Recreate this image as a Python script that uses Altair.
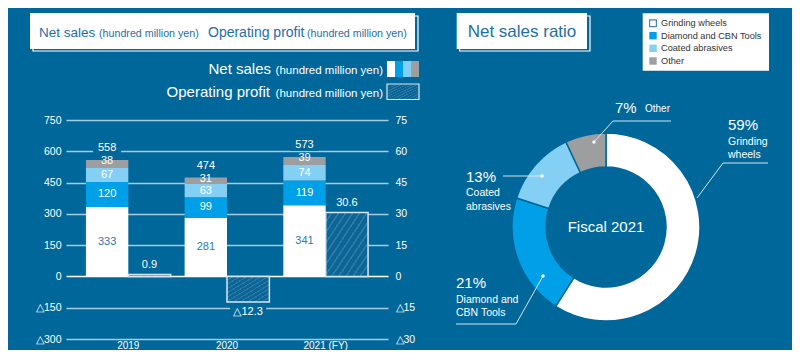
import altair as alt
import pandas as pd

# ---------------- data ----------------
years = ["2019", "2020", "2021 (FY)"]
segments = ["Grinding wheels", "Diamond and CBN Tools", "Coated abrasives", "Other"]
grinding = [333, 281, 341]
diamond = [120, 99, 119]
coated = [67, 63, 74]
other = [38, 31, 39]
totals = [558, 474, 573]
op_profit = [0.9, -12.3, 30.6]
share_2021 = [59, 21, 13, 7]
sales_ticks = [-300, -150, 0, 150, 300, 450, 600, 750]
profit_ticks = [-30, -15, 0, 15, 30, 45, 60, 75]

# ---------------- style ----------------
BG = "#00679b"
BLUE_TXT = "#1f6ea6"
FONT = "Liberation Sans"
seg_colors = ["#ffffff", "#00a0e9", "#84d0f4", "#9d9e9f"]
HB, HS = "#0b6597", "#2e7aa6"

N = 12
stops = []
for k in range(N):
    a, b, c = k / N, (k + 0.72) / N, (k + 1) / N
    stops += [alt.GradientStop(color=HB, offset=a), alt.GradientStop(color=HB, offset=b),
              alt.GradientStop(color=HS, offset=b), alt.GradientStop(color=HS, offset=c)]
hatch = alt.LinearGradient(gradient="linear", stops=stops, x1=0, y1=0, x2=1, y2=1)

sales_rows = []
for i, y in enumerate(years):
    for j, vals in enumerate([grinding, diamond, coated, other]):
        sales_rows.append({"year": y, "segment": segments[j], "idx": j, "value": vals[i], "series": "sales"})
sales_df = pd.DataFrame(sales_rows)
tot_df = pd.DataFrame({"year": years, "total": totals, "series": "sales"})
prof_df = pd.DataFrame({"year": years, "profit": op_profit, "series": "profit"})
pie_df = pd.DataFrame({"segment": segments, "share": share_2021, "idx": range(4)})

color_scale = alt.Scale(domain=segments, range=seg_colors)

lab_expr = "datum.value < 0 ? '\u25b3' + (-datum.value) : '' + datum.value"
xaxis = alt.Axis(orient="bottom", labelColor="white", labelFontSize=10, labelPadding=1, ticks=False,
                 domain=False, grid=False, labelAngle=0, labelFont=FONT)
X = alt.X("year:N", scale=alt.Scale(domain=years, paddingInner=14 / 99, paddingOuter=20 / 99),
          axis=xaxis, title=None)
XOFF = alt.XOffset("series:N", scale=alt.Scale(domain=["sales", "profit"], paddingInner=0, paddingOuter=0))
YS = alt.Scale(domain=[-300, 750], nice=False, zero=False)
YP = alt.Scale(domain=[-30, 75], nice=False, zero=False)
yaxis_left = alt.Axis(orient="left", values=sales_ticks, labelExpr=lab_expr, grid=True,
                      gridColor={"condition": {"test": "datum.value === 0", "value": "#ffffff"}, "value": "#a9cbe0"},
                      gridWidth=1.3, domain=False, ticks=False, labelPadding=5, labelColor="white",
                      labelFontSize=10.5, labelFont=FONT)
yaxis_right = alt.Axis(orient="right", values=profit_ticks, labelExpr=lab_expr, grid=False, domain=False,
                       ticks=False, labelPadding=7, labelColor="white", labelFontSize=10.5, labelFont=FONT)

# ---------------- sales group ----------------
sales_base = alt.Chart(sales_df).transform_stack(
    stack="value", groupby=["year"], as_=["y0", "y1"], sort=[alt.SortField("idx", order="ascending")]
).transform_calculate(mid="datum.idx == 3 ? datum.y1 - 5 : (datum.y0 + datum.y1) / 2")

sales_bars = sales_base.mark_bar().encode(
    x=X, xOffset=XOFF,
    y=alt.Y("y1:Q", scale=YS, axis=yaxis_left, title=None), y2="y0:Q",
    color=alt.Color("segment:N", scale=color_scale, legend=None),
)
sales_text = sales_base.mark_text(fontSize=11, font=FONT, baseline="middle").encode(
    x=X, xOffset=XOFF,
    y=alt.Y("mid:Q", scale=YS, axis=yaxis_left, title=None),
    text="value:Q",
    color=alt.condition("datum.idx == 0", alt.value("#2d78ae"), alt.value("white")),
)
tot_box = alt.Chart(tot_df).mark_point(
    shape="M-1.4,-1.8L1.4,-1.8L1.4,-0.6L-1.4,-0.6Z", size=400, filled=True, fill=BG, opacity=1, strokeWidth=0
).encode(x=X, xOffset=XOFF, y=alt.Y("total:Q", scale=YS, axis=yaxis_left, title=None))
tot_text = alt.Chart(tot_df).mark_text(fontSize=11, font=FONT, color="white", baseline="middle", dy=-12).encode(
    x=X, xOffset=XOFF, y=alt.Y("total:Q", scale=YS, axis=yaxis_left, title=None), text="total:Q")
sales_group = alt.layer(sales_bars, tot_box, sales_text, tot_text)

# ---------------- profit group ----------------
prof_base = alt.Chart(prof_df).transform_calculate(
    lab="datum.profit < 0 ? '\u25b3' + format(-datum.profit, '.1f') : format(datum.profit, '.1f')")
YPROF = alt.Y("profit:Q", scale=YP, axis=yaxis_right, title=None)
prof_bars = prof_base.mark_bar(fill=hatch, stroke="#d6e6f0", strokeWidth=1.5).encode(
    x=X, xOffset=XOFF, y=YPROF, y2=alt.datum(0))
neg_box = prof_base.transform_filter("datum.profit < 0").mark_point(
    shape="M-1.8,0.4L1.8,0.4L1.8,1.6L-1.8,1.6Z", size=400, filled=True, fill=BG, opacity=1, strokeWidth=0
).encode(x=X, xOffset=XOFF, y=YPROF)
pos_text = prof_base.transform_filter("datum.profit >= 0").mark_text(
    fontSize=11, font=FONT, color="white", baseline="middle", dy=-10).encode(x=X, xOffset=XOFF, y=YPROF, text="lab:N")
neg_text = prof_base.transform_filter("datum.profit < 0").mark_text(
    fontSize=11, font=FONT, color="white", baseline="middle", dy=10).encode(x=X, xOffset=XOFF, y=YPROF, text="lab:N")
profit_group = alt.layer(prof_bars, neg_box, pos_text, neg_text)

# ---------------- decorations ----------------
def one():
    return alt.Chart(alt.Data(values=[{"t": ""}]))

def label(text, x, y, size, color="white", align="left", baseline="alphabetic", font=FONT):
    return alt.Chart(alt.Data(values=[{"t": text}])).mark_text(
        align=align, baseline=baseline, fontSize=size, font=font, color=color
    ).encode(x=alt.value(x), y=alt.value(y), text="t:N")

def box(x, x2, y, y2, **kw):
    return one().mark_rect(**kw).encode(x=alt.value(x), x2=alt.value(x2), y=alt.value(y), y2=alt.value(y2))

def line(x, y, x2, y2):
    return one().mark_rule(color="#d5e5ef", strokeWidth=1).encode(
        x=alt.value(x), y=alt.value(y), x2=alt.value(x2), y2=alt.value(y2))

deco = [
    box(-33, 352, -104, -69, filled=False, stroke="white", strokeWidth=1.2),
    box(-36, 349, -107, -71, fill="white"),
    label("Net sales", -27, -83, 13.5, BLUE_TXT),
    label("(hundred million yen)", 33, -83, 10.7, BLUE_TXT),
    label("Operating profit", 142, -83, 14, BLUE_TXT),
    label("(hundred million yen)", 241, -83, 10.7, BLUE_TXT),
    label("Net sales", 205, -46, 15, align="right"),
    label("(hundred million yen)", 317, -46, 11.5, align="right"),
    label("Operating profit", 204, -23.5, 15, align="right"),
    label("(hundred million yen)", 317, -23.5, 11.5, align="right"),
    box(321, 353, -36, -20.5, fill=hatch, stroke="#d6e6f0", strokeWidth=1.2),
    box(393.7, 524, -104, -69, filled=False, stroke="white", strokeWidth=1.2),
    box(390.7, 521, -107, -71, fill="white"),
    label("Net sales ratio", 456, -88.5, 17, BLUE_TXT, align="center", baseline="middle"),
    # legend box for the segments
    box(576.7, 703, -106.7, -49.3, fill="white"),
]
for k, c in enumerate(seg_colors):
    deco.append(box(321 + 8 * k, 329 + 8 * k, -59, -43, fill=c))
row_y = [-96.7, -84.3, -71.7, -59]
for k, (seg, c) in enumerate(zip(segments, seg_colors)):
    if k == 0:
        deco.append(box(583.6, 590.4, row_y[k] - 3.4, row_y[k] + 3.4, fill=c, stroke="#4a86b2", strokeWidth=1.2))
    else:
        deco.append(box(583.3, 590.7, row_y[k] - 3.7, row_y[k] + 3.7, fill=c))
    deco.append(label(seg, 595, row_y[k], 9.2, "#333333", baseline="middle"))

arc = alt.Chart(pie_df).mark_arc(outerRadius=94, innerRadius=60, stroke=BG, strokeWidth=1.5).encode(
    theta=alt.Theta("share:Q", stack=True),
    order=alt.Order("idx:Q"),
    color=alt.Color("segment:N", scale=color_scale, legend=None),
    x=alt.value(540), y=alt.value(107),
)
deco.append(arc)
deco.append(label("Fiscal 2021", 540, 107, 15, align="center", baseline="middle"))

for seg in [(631, 78, 657, 43), (657, 43, 702, 43), (547, 1, 605, 1), (547, 1, 528, 22),
            (437, 56, 476, 56), (477, 156, 450, 204), (450, 204, 390, 204)]:
    deco.append(line(*seg))
for (dx, dy) in [(528, 22), (476, 56), (477, 156)]:
    deco.append(one().mark_circle(size=12, color="white", opacity=1).encode(x=alt.value(dx), y=alt.value(dy)))

deco += [
    label(f"{share_2021[0]}%", 662, 5, 15, baseline="middle"),
    label("Grinding", 662, 21.7, 10.5, baseline="middle"),
    label("wheels", 662, 35, 10.5, baseline="middle"),
    label(f"{share_2021[3]}%", 549, -12, 15, baseline="middle"),
    label("Other", 579, -11, 10, baseline="middle"),
    label(f"{share_2021[2]}%", 400, 57, 15, baseline="middle"),
    label("Coated", 400, 73, 10.5, baseline="middle"),
    label("abrasives", 400, 87, 10.5, baseline="middle"),
    label(f"{share_2021[1]}%", 390, 163, 15, baseline="middle"),
    label("Diamond and", 390, 180, 10.5, baseline="middle"),
    label("CBN Tools", 390, 193, 10.5, baseline="middle"),
]
deco_group = alt.layer(*deco)

chart = alt.layer(sales_group, profit_group, deco_group).resolve_scale(y="independent").properties(
    width=322, height=219, background=BG,
    autosize=alt.AutoSizeParams(type="none"),
    padding={"left": 58, "top": 112, "right": 404, "bottom": 11},
).configure_view(stroke=None)

chart.save("out.html", embed_options={"renderer": "svg", "actions": False})
